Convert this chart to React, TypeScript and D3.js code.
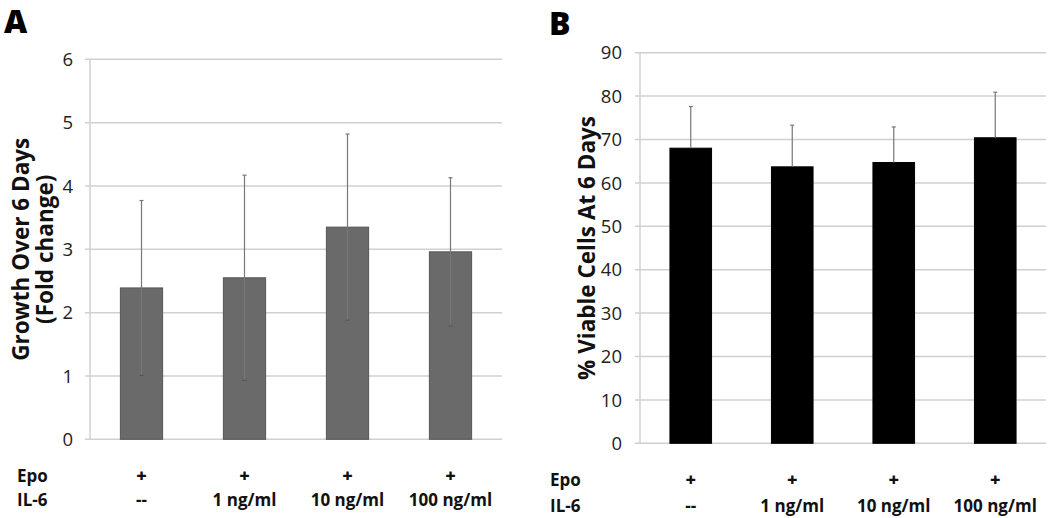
import React from "react";
import * as d3 from "d3";

const categories = ["c1", "c2", "c3", "c4"];
const epoLabels = ["+", "+", "+", "+"];
const il6Labels = ["--", "1 ng/ml", "10 ng/ml", "100 ng/ml"];

const growthValues = [2.39, 2.55, 3.35, 2.96];
const growthErrors = [1.38, 1.62, 1.47, 1.17];
const growthTicks = [0, 1, 2, 3, 4, 5, 6];

const viableValues = [68.0, 63.7, 64.7, 70.4];
const viableErrors = [9.6, 9.6, 8.2, 10.5];
const viableTicks = [0, 10, 20, 30, 40, 50, 60, 70, 80, 90];

const FONT = "'Open Sans', sans-serif";

type PanelProps = {
  letter: string;
  letterX: number;
  letterY: number;
  left: number;
  right: number;
  top: number;
  bottom: number;
  yMax: number;
  ticks: number[];
  values: number[];
  errors: number[];
  bothErr: boolean;
  barFill: string;
  barStroke: string;
  titleLines: string[];
  titleXs: number[];
  rowLabelX: number;
  row1Y: number;
  row2Y: number;
  tickLabelX: number;
};

function Panel(p: PanelProps) {
  const x = d3.scaleBand<string>().domain(categories).range([p.left, p.right]).paddingInner(0.59).paddingOuter(0.295);
  const y = d3.scaleLinear().domain([0, p.yMax]).range([p.bottom, p.top]);
  const midY = (p.top + p.bottom) / 2;
  return (
    <g>
      <text x={p.letterX} y={p.letterY} fontFamily={FONT} fontWeight={800} fontSize={32} fill="#000">
        {p.letter}
      </text>
      {p.ticks.map((t) => (
        <g key={t}>
          <line x1={p.left - 5} x2={p.right} y1={y(t)} y2={y(t)} stroke="#d0d0d0" strokeWidth={1.5} />
          <text x={p.tickLabelX} y={y(t)} dy="0.36em" textAnchor="end" fontFamily={FONT} fontSize={18.5} fill="#222">
            {t}
          </text>
        </g>
      ))}
      <line x1={p.left} x2={p.left} y1={p.top} y2={p.bottom} stroke="#d0d0d0" strokeWidth={1.5} />
      {categories.map((c, i) => {
        const bx = x(c)!;
        const cx = bx + x.bandwidth() / 2;
        const v = p.values[i];
        const e = p.errors[i];
        return (
          <g key={c}>
            <rect x={bx} y={y(v)} width={x.bandwidth()} height={y(0) - y(v)} fill={p.barFill} stroke={p.barStroke} strokeWidth={1} />
            <line x1={cx} x2={cx} y1={y(v + e)} y2={p.bothErr ? y(v - e) : y(v)} stroke="#777" strokeWidth={1.2} />
            <line x1={cx - 2} x2={cx + 2} y1={y(v + e)} y2={y(v + e)} stroke="#777" strokeWidth={1.2} />
            {p.bothErr && <line x1={cx - 2} x2={cx + 2} y1={y(v - e)} y2={y(v - e)} stroke="#555" strokeWidth={1.2} />}
            <text x={cx} y={p.row1Y} dy="0.36em" textAnchor="middle" fontFamily={FONT} fontWeight={800} fontSize={18} fill="#111">
              {epoLabels[i]}
            </text>
            <text x={cx} y={p.row2Y} dy="0.36em" textAnchor="middle" fontFamily={FONT} fontWeight={700} fontSize={17} fill="#111">
              {il6Labels[i]}
            </text>
          </g>
        );
      })}
      <text x={p.rowLabelX} y={p.row1Y} dy="0.36em" fontFamily={FONT} fontWeight={700} fontSize={17} fill="#111">
        Epo
      </text>
      <text x={p.rowLabelX} y={p.row2Y} dy="0.36em" fontFamily={FONT} fontWeight={700} fontSize={17} fill="#111">
        IL-6
      </text>
      {p.titleLines.map((t, i) => (
        <text
          key={t}
          transform={`translate(${p.titleXs[i]},${midY}) rotate(-90)`}
          textAnchor="middle"
          dy="0.36em"
          fontFamily={FONT}
          fontWeight={700}
          fontSize={22.5}
          fill="#111"
        >
          {t}
        </text>
      ))}
    </g>
  );
}

export default function App() {
  return (
    <svg width={1050} height={518} style={{ position: "absolute", left: 0, top: 0, background: "#fff" }}>
      <rect width={1050} height={518} fill="#fff" />
      <Panel
        letter="A"
        letterX={4}
        letterY={33}
        left={90}
        right={502}
        top={59.3}
        bottom={439.3}
        yMax={6}
        ticks={growthTicks}
        values={growthValues}
        errors={growthErrors}
        bothErr={true}
        barFill="#6a6a6a"
        barStroke="#555"
        titleLines={["Growth Over 6 Days", "(Fold change)"]}
        titleXs={[21, 45]}
        rowLabelX={17}
        row1Y={476}
        row2Y={500}
        tickLabelX={73}
      />
      <Panel
        letter="B"
        letterX={549}
        letterY={35}
        left={640}
        right={1046}
        top={52.7}
        bottom={443.3}
        yMax={90}
        ticks={viableTicks}
        values={viableValues}
        errors={viableErrors}
        bothErr={false}
        barFill="#000"
        barStroke="#000"
        titleLines={["% Viable Cells At 6 Days"]}
        titleXs={[587]}
        rowLabelX={550}
        row1Y={480}
        row2Y={506}
        tickLabelX={622}
      />
    </svg>
  );
}
